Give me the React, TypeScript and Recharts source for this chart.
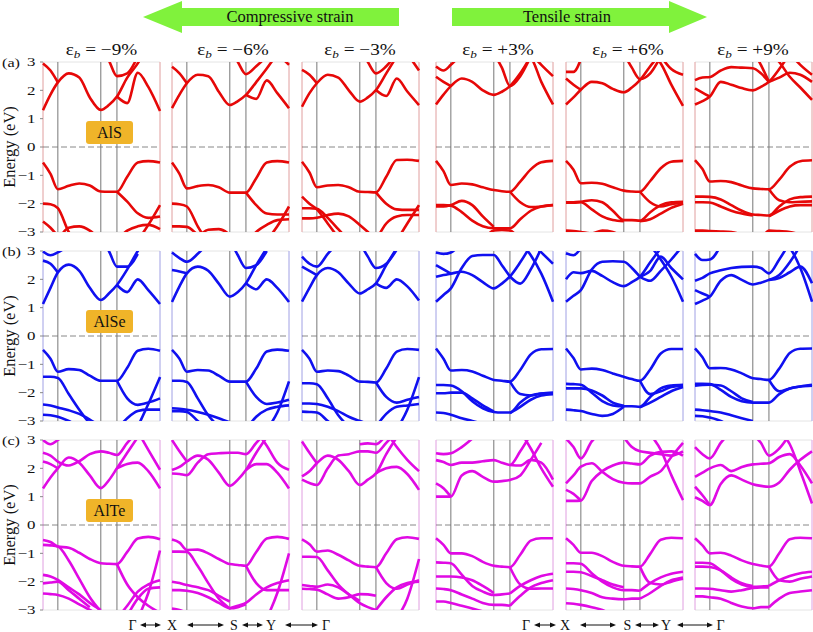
import React from 'react';
import { LineChart, Line, XAxis, YAxis, ReferenceLine, ReferenceArea } from 'recharts';

const _ = null;

// k-path sample points: Γ, X, S, Y, Γ (fraction of the panel width)
const kPts = [0, 0.064, 0.127, 0.22, 0.31, 0.4, 0.494, 0.563, 0.632, 0.72, 0.81, 0.9, 1];
const kMarks = [0.127, 0.494, 0.632];
const yTicks = [-3, -2, -1, 0, 1, 2, 3];

const strainLabels = ['\u22129%', '\u22126%', '\u22123%', '+3%', '+6%', '+9%'];
const materials = ['AlS', 'AlSe', 'AlTe'];
const rowTags = ['(a)', '(b)', '(c)'];
const bandColors = ['#e60808', '#1010f0', '#e00ae4'];

// ---- AlS ----
const alS_m9 = [
  [-0.55, -0.95, -1.49, -1.37, -1.29, -1.36, -1.57, -1.58, -1.58, -1.05, -0.55, -0.5, -0.55],
  [_, _, _, _, _, _, _, _, -1.58, -1.93, -2.34, -2.5, -2.45],
  [-2.0, -2.02, -2.16, -3.0, -3.5, _, _, _, _, _, _, _, _],
  [-2.63, -2.85, -3.15, _, _, _, _, _, _, _, _, _, _],
  [_, _, -3.3, -2.85, -2.8, -2.95, -3.3, _, _, _, _, _, _],
  [_, _, _, _, _, _, _, _, -3.3, -2.95, -2.8, -2.75, -2.9],
  [_, _, _, _, _, _, _, _, _, _, -3.3, -2.75, -2.05],
  [1.3, 1.85, 2.28, 2.6, 2.45, 1.75, 1.31, 1.48, 1.78, 2.45, 2.95, 3.6, _],
  [2.95, 2.7, 2.28, _, _, _, _, _, _, _, _, _, _],
  [_, _, _, _, _, _, _, _, 1.78, 1.55, 2.62, 2.12, 1.27],
  [_, _, _, _, _, _, 3.5, 3.05, 2.5, 2.6, 3.2, _, _],
];
const alS_m6 = [
  [-0.55, -0.95, -1.46, -1.38, -1.34, -1.42, -1.61, -1.61, -1.61, -1.1, -0.55, -0.5, -0.55],
  [_, _, _, _, _, _, _, _, -1.61, -2.05, -2.35, -2.38, -2.38],
  [-2.0, -2.02, -2.1, -2.8, -3.4, _, _, _, _, _, _, _, _],
  [-2.8, -2.8, -2.82, -3.1, -3.4, _, _, _, _, _, _, _, _],
  [_, _, _, -3.2, -2.92, -2.9, -3.1, -3.4, _, _, _, _, _],
  [_, _, _, _, _, _, _, _, -3.4, -3.0, -2.75, -2.58, -2.55],
  [_, _, _, _, _, _, _, _, _, _, -3.3, -2.8, -2.1],
  [1.37, 1.85, 2.25, 2.55, 2.5, 1.95, 1.48, 1.62, 1.84, 2.29, 2.77, 3.3, _],
  [2.83, 2.6, 2.25, _, _, _, _, _, _, _, _, _, _],
  [_, _, _, _, _, _, _, _, 1.84, 1.7, 2.35, 1.9, 1.37],
  [_, _, _, _, _, _, 3.5, 3.0, 2.57, 2.85, 3.2, _, _],
  [_, _, _, _, _, _, _, _, _, _, _, 3.3, 2.9],
];
const alS_m3 = [
  [-0.52, -0.9, -1.42, -1.36, -1.34, -1.42, -1.58, -1.59, -1.6, -1.05, -0.46, -0.45, -0.49],
  [_, _, _, _, _, _, _, _, -1.6, -2.0, -2.2, -2.22, -2.22],
  [-1.75, -2.0, -2.2, -2.7, -3.2, _, _, _, _, _, _, _, _],
  [-2.16, -2.16, -2.18, -2.5, -2.9, -3.3, _, _, _, _, _, _, _],
  [-2.52, -2.52, -2.5, -2.4, -2.35, -2.45, -2.75, -3.0, -3.3, _, _, _, _],
  [_, _, _, _, _, _, _, _, -3.3, -2.7, -2.45, -2.4, -2.4],
  [_, _, _, _, _, _, _, _, _, _, -3.3, -2.7, -2.05],
  [1.42, 1.9, 2.25, 2.55, 2.45, 2.0, 1.6, 1.75, 2.01, 2.6, 3.2, _, _],
  [2.72, 2.55, 2.25, _, _, _, _, _, _, _, _, _, _],
  [_, _, _, _, _, _, _, _, 2.01, 1.8, 2.42, 1.96, 1.48],
  [_, _, _, _, _, _, 3.5, 3.0, 2.6, 2.85, 3.3, _, _],
  [_, _, _, _, _, _, _, _, _, _, _, 3.3, 2.7],
];
const alS_p3 = [
  [-0.49, -0.85, -1.34, -1.29, -1.32, -1.42, -1.52, -1.56, -1.58, -1.22, -0.79, -0.54, -0.49],
  [-2.05, -2.05, -2.07, -2.3, -2.6, -2.8, -2.87, -2.87, -2.87, -2.55, -2.25, -2.1, -2.05],
  [_, _, _, _, _, _, _, _, -1.58, -1.95, -2.12, -2.1, -2.05],
  [-2.1, -2.1, -2.05, -1.9, -2.05, -2.45, -2.82, _, _, _, _, _, _],
  [_, _, _, _, _, -3.3, -2.95, -2.93, -2.95, -3.3, _, _, _],
  [1.5, 1.85, 2.15, 2.42, 2.3, 2.0, 1.84, 1.95, 2.15, 2.6, 3.2, _, _],
  [2.48, 2.3, 2.15, _, _, _, _, _, _, _, _, _, _],
  [2.84, 2.7, 2.9, 3.3, _, _, _, _, _, _, _, _, _],
  [_, _, _, _, _, _, _, _, _, 3.3, 3.15, 2.3, 1.5],
  [_, _, _, _, _, _, 3.3, 2.8, 2.15, 2.5, 3.2, _, _],
  [_, _, _, _, _, _, _, _, _, _, 3.3, 2.9, 2.5],
];
const alS_p6 = [
  [-0.49, -0.8, -1.28, -1.26, -1.3, -1.42, -1.54, -1.57, -1.58, -1.2, -0.75, -0.52, -0.49],
  [-1.95, -1.95, -1.93, -1.88, -1.95, -2.25, -2.58, -2.58, -2.6, -2.3, -2.05, -1.95, -1.93],
  [-1.97, -1.97, -1.95, -2.2, -2.45, -2.58, -2.62, _, _, _, _, _, _],
  [_, _, _, _, _, _, _, _, -1.58, -1.95, -2.1, -2.02, -1.97],
  [_, _, _, _, _, _, _, _, -2.62, -2.55, -2.35, -2.15, -2.0],
  [-2.95, -2.97, -3.0, -3.05, -2.95, -3.0, -3.2, _, _, _, _, _, _],
  [1.5, 1.75, 2.02, 2.3, 2.25, 2.05, 1.93, 2.1, 2.36, 2.85, 3.3, _, _],
  [2.42, 2.2, 2.02, _, _, _, _, _, _, _, _, _, _],
  [2.65, 2.65, 3.1, _, _, _, _, _, _, _, _, _, _],
  [_, _, _, _, _, _, _, _, _, 3.3, 2.95, 2.2, 1.45],
  [_, _, _, _, _, _, 3.3, 2.8, 2.4, 2.6, 3.2, _, _],
  [_, _, _, _, _, _, _, _, _, _, 3.2, 2.75, 2.55],
];
const alS_p9 = [
  [-0.46, -0.78, -1.22, -1.2, -1.24, -1.36, -1.46, -1.48, -1.49, -1.15, -0.7, -0.5, -0.47],
  [-1.75, -1.75, -1.76, -1.85, -2.05, -2.25, -2.38, -2.4, -2.42, -2.1, -1.85, -1.77, -1.75],
  [-1.95, -1.95, -1.96, -2.1, -2.25, -2.35, -2.42, _, _, _, _, _, _],
  [_, _, _, _, _, _, _, _, -1.49, -1.88, -1.95, -1.93, -1.92],
  [_, _, _, _, _, _, _, _, -2.45, -2.25, -2.1, -2.05, -2.05],
  [-2.95, -2.95, -2.97, -2.98, -3.0, -3.1, -3.3, _, _, _, _, _, _],
  [_, _, _, _, _, _, _, -3.3, -2.95, -2.97, -3.0, -3.1, -3.3],
  [1.5, 1.62, 1.78, 2.3, 2.2, 2.08, 2.0, 2.12, 2.3, 2.75, 3.3, _, _],
  [2.07, 1.92, 1.78, _, _, _, _, _, _, _, _, _, _],
  [2.36, 2.45, 2.47, 2.7, 2.82, 2.8, 2.78, 2.6, 2.3, _, _, _, _],
  [_, _, _, _, _, _, _, _, 2.3, 2.45, 2.62, 2.55, 2.3],
  [_, _, _, _, _, _, _, _, 3.4, 3.0, 2.48, 2.1, 1.66],
  [_, _, _, _, _, _, 3.4, 2.9, 2.3, _, _, _, _],
  [_, _, _, _, _, _, _, _, _, _, 3.3, 2.9, 2.55],
];

// ---- AlSe ----
const alSe_m9 = [
  [-0.49, -0.8, -1.26, -1.17, -1.2, -1.4, -1.58, -1.58, -1.58, -1.12, -0.52, -0.45, -0.52],
  [-1.44, -1.44, -1.48, -2.05, -2.6, -3.1, _, _, _, _, _, _, _],
  [-2.42, -2.45, -2.52, -2.62, -2.75, -2.95, -3.2, _, _, _, _, _, _],
  [-2.78, -2.8, -2.85, -3.0, -3.2, _, _, _, _, _, _, _, _],
  [_, _, _, _, _, _, _, _, -1.58, -2.2, -2.43, -2.35, -2.2],
  [_, _, _, _, _, _, _, _, -3.3, -2.9, -2.65, -2.6, -2.6],
  [_, _, _, _, _, _, _, _, _, _, -3.2, -2.4, -1.45],
  [1.13, 1.7, 2.24, 2.52, 2.3, 1.7, 1.27, 1.5, 1.8, 2.35, 3.0, 3.5, _],
  [2.66, 2.55, 2.24, _, _, _, _, _, _, _, _, _, _],
  [_, _, _, _, _, _, _, _, 1.8, 1.55, 2.0, 1.62, 1.13],
  [_, _, _, _, _, _, 3.4, 3.0, 2.45, 2.45, 2.9, _, _],
  [2.98, 2.85, 2.95, 3.2, _, _, _, _, _, _, _, _, _],
];
const alSe_m6 = [
  [-0.49, -0.8, -1.26, -1.2, -1.22, -1.4, -1.61, -1.61, -1.61, -1.15, -0.55, -0.48, -0.52],
  [-1.58, -1.58, -1.62, -2.2, -2.8, -3.2, _, _, _, _, _, _, _],
  [-2.55, -2.57, -2.6, -2.68, -2.78, -2.9, -3.05, _, _, _, _, _, _],
  [-2.65, -2.65, -2.68, -3.0, -3.3, _, _, _, _, _, _, _, _],
  [_, _, _, _, _, _, _, _, -1.61, -2.15, -2.4, -2.35, -2.25],
  [_, _, _, _, _, _, _, _, -3.3, -2.85, -2.6, -2.5, -2.45],
  [_, _, _, _, _, _, _, _, _, _, -3.3, -2.7, -1.6],
  [1.2, 1.75, 2.21, 2.45, 2.3, 1.85, 1.39, 1.55, 1.86, 2.5, 3.1, _, _],
  [2.33, 2.28, 2.21, _, _, _, _, _, _, _, _, _, _],
  [2.95, 2.75, 2.62, 2.9, 3.3, _, _, _, _, _, _, _, _],
  [_, _, _, _, _, _, _, _, 1.86, 1.65, 2.0, 1.7, 1.2],
  [_, _, _, _, _, _, 3.4, 2.85, 2.4, 2.5, 3.0, _, _],
];
const alSe_m3 = [
  [-0.49, -0.8, -1.26, -1.22, -1.24, -1.4, -1.61, -1.62, -1.64, -1.15, -0.55, -0.46, -0.49],
  [-1.67, -1.67, -1.7, -2.2, -2.8, -3.2, _, _, _, _, _, _, _],
  [-2.38, -2.38, -2.4, -2.5, -2.65, -2.85, -3.0, -3.1, _, _, _, _, _],
  [-2.67, -2.68, -2.7, -3.0, -3.3, _, _, _, _, _, _, _, _],
  [_, _, _, _, _, _, _, _, -1.64, -2.15, -2.35, -2.25, -2.15],
  [_, _, _, _, _, _, _, _, -3.2, -2.75, -2.5, -2.45, -2.4],
  [_, _, _, _, _, _, _, _, _, _, -3.3, -2.6, -1.45],
  [1.21, 1.7, 2.15, 2.4, 2.25, 1.85, 1.5, 1.65, 1.86, 2.5, 3.1, _, _],
  [2.45, 2.3, 2.15, _, _, _, _, _, _, _, _, _, _],
  [2.8, 2.55, 2.45, 2.9, 3.3, _, _, _, _, _, _, _, _],
  [_, _, _, _, _, _, _, _, 1.86, 1.7, 2.0, 1.75, 1.25],
  [_, _, _, _, _, _, 3.3, 2.8, 2.4, 2.55, 3.05, _, _],
];
const alSe_p3 = [
  [-0.44, -0.8, -1.22, -1.2, -1.25, -1.4, -1.55, -1.58, -1.61, -1.2, -0.65, -0.47, -0.46],
  [-1.73, -1.73, -1.75, -1.95, -2.3, -2.55, -2.68, -2.7, -2.7, -2.35, -2.1, -2.03, -2.02],
  [-2.02, -2.02, -2.0, -2.0, -2.2, -2.45, -2.66, _, _, _, _, _, _],
  [_, _, _, _, _, _, _, _, -1.61, -2.05, -2.1, -2.03, -2.0],
  [-2.7, -2.72, -2.78, -2.9, -3.0, -3.1, _, _, _, _, _, _, _],
  [_, _, _, _, _, _, _, _, -2.72, -2.5, -2.25, -2.1, -2.05],
  [1.21, 1.45, 1.68, 2.4, 2.82, 2.86, 2.86, 2.5, 2.1, _, _, _, _],
  [2.09, 2.15, 2.2, 2.27, 2.15, 1.9, 1.68, 1.85, 2.1, 2.6, 3.2, _, _],
  [2.5, 2.35, 2.2, _, _, _, _, _, _, _, _, _, _],
  [_, _, _, _, _, _, _, _, 2.1, 1.85, 2.35, 3.1, _],
  [_, _, _, _, _, _, _, _, _, 3.3, 2.85, 2.2, 1.21],
  [_, _, _, _, _, _, _, _, _, _, 3.3, 2.95, 2.55],
  [2.95, 2.9, 2.95, 3.3, _, _, _, _, _, _, _, _, _],
];
const alSe_p6 = [
  [-0.44, -0.78, -1.18, -1.15, -1.2, -1.32, -1.44, -1.52, -1.58, -1.18, -0.62, -0.46, -0.46],
  [-1.69, -1.7, -1.72, -2.0, -2.3, -2.45, -2.48, -2.48, -2.5, -2.15, -1.85, -1.75, -1.72],
  [-1.85, -1.85, -1.85, -1.92, -2.1, -2.35, -2.46, _, _, _, _, _, _],
  [_, _, _, _, _, _, _, _, -1.58, -2.05, -1.95, -1.8, -1.75],
  [-2.6, -2.62, -2.65, -2.75, -2.82, -2.75, -2.5, _, _, _, _, _, _],
  [_, _, _, _, _, _, _, _, -2.52, -2.35, -2.15, -1.95, -1.8],
  [1.21, 1.42, 1.62, 2.35, 2.62, 2.64, 2.62, 2.4, 2.09, _, _, _, _],
  [2.0, 2.25, 2.22, 2.3, 2.12, 1.9, 1.76, 1.9, 2.09, 2.6, 3.1, _, _],
  [2.92, 2.85, 3.1, _, _, _, _, _, _, _, _, _, _],
  [_, _, _, _, _, _, _, _, 2.09, 1.95, 2.3, 2.7, 3.2],
  [_, _, _, _, _, _, _, _, _, 3.2, 2.7, 2.1, 1.21],
  [_, _, _, _, _, _, _, _, 2.09, 2.3, 2.8, 2.4, 2.0],
];
const alSe_p9 = [
  [-0.44, -0.75, -1.14, -1.13, -1.18, -1.32, -1.49, -1.52, -1.55, -1.15, -0.6, -0.45, -0.44],
  [-1.69, -1.69, -1.7, -1.9, -2.15, -2.3, -2.35, -2.35, -2.35, -2.05, -1.85, -1.78, -1.75],
  [-1.75, -1.73, -1.72, -1.75, -1.95, -2.2, -2.33, _, _, _, _, _, _],
  [_, _, _, _, _, _, _, _, -1.55, -1.95, -1.85, -1.78, -1.72],
  [-2.6, -2.62, -2.65, -2.7, -2.8, -2.9, -3.0, _, _, _, _, _, _],
  [-2.82, -2.83, -2.88, -3.0, -3.2, _, _, _, _, _, _, _, _],
  [1.13, 1.25, 1.39, 1.95, 2.15, 1.98, 1.82, 1.88, 1.98, 2.15, 2.6, 3.2, _],
  [1.62, 1.5, 1.39, _, _, _, _, _, _, _, _, _, _],
  [1.95, 2.05, 2.21, 2.32, 2.4, 2.44, 2.45, 2.4, 2.21, 2.7, 3.3, _, _],
  [2.9, 2.68, 2.7, 3.2, _, _, _, _, _, _, _, _, _],
  [_, _, _, _, _, _, _, _, _, 3.3, 3.1, 2.4, 1.21],
  [_, _, _, _, _, _, _, _, 1.98, 2.05, 2.25, 2.45, 1.86],
];

// ---- AlTe ----
const alTe_m9 = [
  [-0.53, -0.6, -0.76, -0.8, -0.98, -1.2, -1.35, -1.37, -1.38, -0.95, -0.48, -0.42, -0.5],
  [-0.7, -0.72, -0.76, -1.25, -1.9, -2.55, -3.05, _, _, _, _, _, _],
  [-1.76, -1.82, -1.94, -2.2, -2.45, -2.75, -3.0, _, _, _, _, _, _],
  [-2.06, -2.03, -2.0, -2.3, -2.6, -2.9, _, _, _, _, _, _, _],
  [-2.42, -2.44, -2.47, -2.6, -2.8, -3.0, -3.2, _, _, _, _, _, _],
  [_, _, _, _, _, _, _, _, -1.38, -2.1, -2.55, -2.85, -3.1],
  [_, _, _, _, _, _, _, _, -3.3, -2.85, -2.35, -2.1, -1.95],
  [_, _, _, _, _, _, _, _, _, _, -3.3, -2.4, -0.9],
  [_, _, _, _, _, _, _, _, _, -3.2, -2.6, -2.25, -2.2],
  [1.29, 1.68, 2.0, 2.38, 2.2, 1.75, 1.3, 1.58, 2.0, 2.55, 3.1, _, _],
  [2.24, 2.15, 2.0, _, _, _, _, _, _, _, _, _, _],
  [2.55, 2.45, 2.24, 2.1, 2.25, 2.5, 2.6, 2.55, 2.47, 2.9, 3.3, _, _],
  [_, _, _, _, _, _, _, _, 2.0, 2.15, 2.2, 1.9, 1.29],
  [3.0, 2.85, 3.0, 3.3, _, _, _, _, _, _, _, _, _],
  [_, _, _, _, _, _, _, _, _, _, 3.3, 2.65, 1.95],
];
const alTe_m6 = [
  [-0.51, -0.62, -0.88, -0.87, -1.0, -1.2, -1.38, -1.41, -1.44, -0.95, -0.48, -0.42, -0.49],
  [-0.94, -0.94, -0.95, -1.45, -2.05, -2.6, -2.95, _, _, _, _, _, _],
  [-2.0, -2.05, -2.12, -2.2, -2.3, -2.5, -2.7, _, _, _, _, _, _],
  [-2.3, -2.3, -2.32, -2.4, -2.55, -2.75, -2.94, -2.9, -2.8, _, _, _, _],
  [_, _, _, _, _, _, _, _, -1.44, -2.05, -2.3, -2.3, -2.3],
  [_, _, _, _, _, _, -2.94, -2.85, -2.75, -2.45, -2.2, -2.05, -1.95],
  [_, _, _, _, _, _, _, _, _, _, -3.3, -2.4, -1.0],
  [-2.95, -3.0, -3.1, _, _, _, _, _, _, _, _, _, _],
  [1.82, 1.8, 1.76, 2.2, 2.5, 2.53, 2.55, 2.55, 2.5, 2.9, 3.3, _, _],
  [1.94, 2.05, 2.24, 2.45, 2.3, 1.85, 1.38, 1.6, 1.94, 2.55, 3.1, _, _],
  [3.0, 2.6, 2.24, _, _, _, _, _, _, _, _, _, _],
  [_, _, _, _, _, _, _, _, 1.94, 2.15, 2.15, 1.85, 1.29],
  [_, _, _, _, _, _, _, _, _, 3.3, 2.8, 2.2, 1.95],
];
const alTe_m3 = [
  [-0.51, -0.68, -0.94, -0.9, -1.05, -1.25, -1.44, -1.47, -1.49, -1.0, -0.5, -0.43, -0.49],
  [-1.12, -1.12, -1.13, -1.6, -2.1, -2.45, -2.76, -2.9, -3.0, _, _, _, _],
  [-2.12, -2.15, -2.18, -2.1, -2.2, -2.45, -2.68, _, _, _, _, _, _],
  [-2.25, -2.26, -2.28, -2.45, -2.6, -2.55, -2.44, -2.45, -2.5, _, _, _, _],
  [_, _, _, _, _, _, _, _, -1.49, -2.05, -2.25, -2.1, -1.95],
  [_, _, _, _, _, _, _, _, -3.0, -2.55, -2.2, -2.05, -2.0],
  [_, _, _, _, _, _, _, _, _, _, -3.3, -2.6, -1.2],
  [-3.05, -3.05, -3.1, _, _, _, _, _, _, _, _, _, _],
  [1.6, 1.48, 1.41, 2.0, 2.45, 2.5, 2.6, 2.6, 2.55, 2.9, 3.3, _, _],
  [1.72, 1.9, 2.18, 2.45, 2.3, 1.9, 1.41, 1.6, 1.82, 2.5, 3.1, _, _],
  [2.95, 2.55, 2.18, _, _, _, _, _, _, _, _, _, _],
  [_, _, _, _, _, _, _, _, 1.82, 2.0, 2.05, 1.8, 1.24],
  [_, _, _, _, _, _, _, _, _, 3.3, 2.75, 2.3, 1.9],
  [_, _, _, _, _, _, 2.85, 2.88, 2.85, 3.2, _, _, _],
];
const alTe_p3 = [
  [-0.47, -0.7, -1.0, -1.0, -1.1, -1.3, -1.44, -1.47, -1.49, -1.05, -0.55, -0.47, -0.47],
  [-1.32, -1.33, -1.35, -1.75, -2.15, -2.35, -2.47, -2.45, -2.42, _, _, _, _],
  [-1.82, -1.82, -1.82, -1.85, -1.95, -2.15, -2.4, _, _, _, _, _, _],
  [-2.24, -2.26, -2.3, -2.45, -2.6, -2.75, -2.82, -2.82, -2.85, _, _, _, _],
  [-2.7, -2.7, -2.75, -2.85, -2.95, -3.05, _, _, _, _, _, _, _],
  [_, _, _, _, _, _, _, _, -1.49, -2.1, -2.25, -2.24, -2.24],
  [_, _, _, _, _, _, _, _, -2.42, -2.15, -1.95, -1.8, -1.72],
  [_, _, _, _, _, _, _, _, -2.85, -2.5, -2.2, -2.05, -1.95],
  [1.0, 1.0, 1.0, 1.75, 1.9, 1.7, 1.53, 1.55, 1.59, 1.75, 2.3, 2.9, _],
  [1.47, 1.3, 1.0, _, _, _, _, _, _, _, _, _, _],
  [2.29, 2.22, 2.12, 2.2, 2.2, 2.25, 2.29, 2.2, 2.12, 2.6, 3.2, _, _],
  [2.53, 2.5, 2.53, 2.75, 3.05, _, _, _, _, _, _, _, _],
  [_, _, _, _, _, _, _, _, _, 3.3, 2.7, 2.0, 1.35],
  [_, _, _, _, _, _, _, _, 2.12, 2.1, 2.3, 2.2, 1.6],
];
const alTe_p6 = [
  [-0.47, -0.7, -0.98, -0.98, -1.1, -1.3, -1.44, -1.46, -1.47, -1.02, -0.52, -0.45, -0.47],
  [-1.35, -1.35, -1.37, -1.7, -2.0, -2.2, -2.3, -2.3, -2.32, _, _, _, _],
  [-1.65, -1.65, -1.67, -1.8, -1.95, -2.1, -2.2, _, _, _, _, _, _],
  [-2.24, -2.26, -2.3, -2.4, -2.55, -2.6, -2.62, -2.6, -2.6, _, _, _, _],
  [-2.76, -2.78, -2.82, -2.9, -3.0, -3.2, _, _, _, _, _, _, _],
  [_, _, _, _, _, _, _, _, -1.47, -2.05, -2.1, -2.0, -1.9],
  [_, _, _, _, _, _, _, _, -2.32, -2.05, -1.85, -1.72, -1.65],
  [_, _, _, _, _, _, _, _, -2.6, -2.4, -2.15, -1.95, -1.85],
  [0.85, 0.85, 0.86, 1.55, 1.9, 2.1, 2.2, 2.17, 2.14, 2.45, 2.58, 2.6, 2.45],
  [1.24, 1.1, 0.86, _, _, _, _, _, _, _, _, _, _],
  [1.47, 1.75, 2.06, 2.18, 1.88, 1.62, 1.49, 1.47, 1.47, 1.71, 1.9, 2.4, 2.9],
  [3.05, 2.75, 2.35, 2.95, 3.3, _, _, _, _, _, _, _, _],
  [_, _, _, _, _, _, _, _, _, 3.2, 2.65, 1.76, 0.88],
  [_, _, _, _, _, _, 3.1, 2.75, 2.6, 2.55, 2.5, 2.45, 2.6],
];
const alTe_p9 = [
  [-0.47, -0.72, -1.0, -0.98, -1.08, -1.25, -1.38, -1.43, -1.47, -1.0, -0.5, -0.45, -0.47],
  [-1.33, -1.33, -1.35, -1.6, -1.9, -2.1, -2.18, -2.17, -2.15, _, _, _, _],
  [-1.47, -1.47, -1.48, -1.6, -1.85, -2.05, -2.15, _, _, _, _, _, _],
  [-2.24, -2.24, -2.25, -2.3, -2.35, -2.3, -2.22, -2.2, -2.2, _, _, _, _],
  [-2.52, -2.52, -2.55, -2.6, -2.75, -2.88, -2.94, -2.9, -2.9, _, _, _, _],
  [_, _, _, _, _, _, _, _, -1.47, -1.95, -2.0, -1.9, -1.82],
  [_, _, _, _, _, _, _, _, -2.15, -1.95, -1.8, -1.7, -1.65],
  [_, _, _, _, _, _, _, _, -2.9, -2.6, -2.4, -2.35, -2.3],
  [0.98, 0.85, 0.7, 1.45, 1.75, 1.6, 1.44, 1.38, 1.35, 1.5, 1.95, 2.3, 2.6],
  [1.35, 1.05, 0.7, _, _, _, _, _, _, _, _, _, _],
  [1.7, 1.85, 2.0, 2.12, 1.9, 2.05, 2.14, 2.16, 2.18, 2.4, 2.5, 2.1, 1.47],
  [2.75, 2.5, 2.35, 2.9, 3.3, _, _, _, _, _, _, _, _],
  [_, _, _, _, _, _, _, _, _, 3.3, 2.85, 1.9, 0.76],
  [_, _, _, _, _, _, 3.2, 2.9, 2.45, 2.7, 3.2, _, _],
];

const panelRows = [
  [alS_m9, alS_m6, alS_m3, alS_p3, alS_p6, alS_p9],
  [alSe_m9, alSe_m6, alSe_m3, alSe_p3, alSe_p6, alSe_p9],
  [alTe_m9, alTe_m6, alTe_m3, alTe_p3, alTe_p6, alTe_p9],
];

// layout
const panelLefts = [43, 172, 302, 436, 566, 695];
const rowTops = [62, 251, 440];
const headerCenters = [101.5, 233, 360, 498, 628, 753];
const PW = 117;
const PH = 170;
const AXIS_W = 40;
const PAD = 10;
const FONT = "'Liberation Serif', 'Times New Roman', Times, serif";

const fmtTick = (v: number) => (v < 0 ? `\u2212${-v}` : `${v}`);

const SerifTick = (props: any) => {
  const { x, y, payload } = props;
  return (
    <text
      transform={`translate(${x},${y}) scale(1.35,1)`}
      textAnchor="end"
      dy={4.3}
      fontSize={12.5}
      fill="#111"
      style={{ fontFamily: FONT }}
    >
      {fmtTick(payload.value)}
    </text>
  );
};

type PanelProps = { bands: (number | null)[][]; color: string; left: number; top: number; first: boolean };

const Panel: React.FC<PanelProps> = ({ bands, color, left, top, first }) => {
  const data = kPts.map((k, i) => {
    const row: Record<string, number | null> = { k };
    bands.forEach((b, j) => {
      row[`b${j}`] = b[i];
    });
    return row;
  });
  return (
    <div style={{ position: 'absolute', left: left - AXIS_W, top: top - PAD }}>
      <LineChart width={AXIS_W + PW + 2} height={PH + 2 * PAD} data={data} margin={{ top: PAD, right: 2, bottom: PAD, left: 0 }}>
        <XAxis type="number" dataKey="k" domain={[0, 1]} hide />
        <YAxis
          type="number"
          domain={[-3, 3]}
          ticks={yTicks}
          interval={0}
          allowDataOverflow
          width={AXIS_W}
          axisLine={{ stroke: color, strokeOpacity: 0.3 }}
          tickLine={{ stroke: '#888' }}
          tickSize={3}
          tickMargin={4.5}
          tick={first ? <SerifTick /> : false}
        />
        <ReferenceArea x1={0} x2={1} y1={-3} y2={3} fill="none" stroke="#e4e4e4" />
        <ReferenceLine x={1} stroke={color} strokeOpacity={0.3} />
        <ReferenceLine y={0} stroke="#888" strokeDasharray="6 3" />
        {kMarks.map((x) => (
          <ReferenceLine key={x} x={x} stroke="#777" strokeWidth={1} />
        ))}
        {bands.map((_b, j) => (
          <Line
            key={j}
            dataKey={`b${j}`}
            type="monotone"
            stroke={color}
            strokeWidth={2.6}
            dot={false}
            activeDot={false}
            connectNulls={false}
            isAnimationActive={false}
          />
        ))}
      </LineChart>
    </div>
  );
};

const pathLabels = ['\u0393', 'X', 'S', 'Y', '\u0393'];
const pathGroups = [
  { letters: [132.5, 172, 234, 271, 326], arrows: [[140, 161], [187, 224], [242, 263], [285, 318]] },
  { letters: [526, 565, 627.5, 666, 720.5], arrows: [[534, 556], [580, 616], [635, 659], [677, 713]] },
];

const DoubleArrow = ({ x1, x2, y }: { x1: number; x2: number; y: number }) => (
  <g>
    <line x1={x1 + 4} x2={x2 - 4} y1={y} y2={y} stroke="#111" strokeWidth={1} />
    <polygon points={`${x1},${y} ${x1 + 6},${y - 2.5} ${x1 + 6},${y + 2.5}`} fill="#111" />
    <polygon points={`${x2},${y} ${x2 - 6},${y - 2.5} ${x2 - 6},${y + 2.5}`} fill="#111" />
  </g>
);

const Overlay = () => (
  <svg width={813} height={632} style={{ position: 'absolute', left: 0, top: 0, pointerEvents: 'none', fontFamily: FONT }}>
    {/* strain arrows */}
    <polygon points="143,17 182,1 182,8 399,8 399,26 182,26 182,33" fill="#80f23c" />
    <polygon points="452,8 669,8 669,1 707,17 669,33 669,26 452,26" fill="#80f23c" />
    <text x={290} y={22} fontSize={16.5} textAnchor="middle" fill="#111">Compressive strain</text>
    <text x={567} y={22} fontSize={16.5} textAnchor="middle" fill="#111">Tensile strain</text>

    {strainLabels.map((s, i) => (
      <text
        key={s}
        transform={`translate(${headerCenters[i]},55) scale(1.2,1)`}
        fontSize={16}
        textAnchor="middle"
        fill="#111"
      >
        <tspan>ε</tspan>
        <tspan fontSize={11} fontStyle="italic" dy={3}>b</tspan>
        <tspan dy={-3}>{` = ${s}`}</tspan>
      </text>
    ))}

    {rowTops.map((t, r) => {
      const zeroY = t + PH / 2;
      return (
        <g key={r}>
          <text transform={`translate(2,${t + 5}) scale(1.3,1)`} fontSize={12.5} fill="#111">{rowTags[r]}</text>
          <text transform={`translate(15, ${zeroY}) rotate(-90)`} fontSize={16.5} textAnchor="middle" fill="#111">
            Energy (eV)
          </text>
          <rect x={86} y={t + 59} width={47} height={23} rx={3} fill="#f0b429" />
          <text x={109.5} y={t + 76} fontSize={16} textAnchor="middle" fill="#111">{materials[r]}</text>
        </g>
      );
    })}

    {pathGroups.map((g, gi) => (
      <g key={gi}>
        {g.letters.map((x, i) => (
          <text key={i} x={x} y={630} fontSize={14} textAnchor="middle" fill="#111">{pathLabels[i]}</text>
        ))}
        {g.arrows.map(([a, b], i) => (
          <DoubleArrow key={i} x1={a} x2={b} y={625} />
        ))}
      </g>
    ))}
  </svg>
);

export default function App() {
  return (
    <div
      style={{
        position: 'absolute',
        left: 0,
        top: 0,
        width: 813,
        height: 632,
        background: '#fff',
        overflow: 'hidden',
        fontFamily: FONT,
      }}
    >
      {panelRows.map((row, r) =>
        row.map((bands, c) => (
          <Panel key={`${r}-${c}`} bands={bands} color={bandColors[r]} left={panelLefts[c]} top={rowTops[r]} first={c === 0} />
        )),
      )}
      <Overlay />
    </div>
  );
}
